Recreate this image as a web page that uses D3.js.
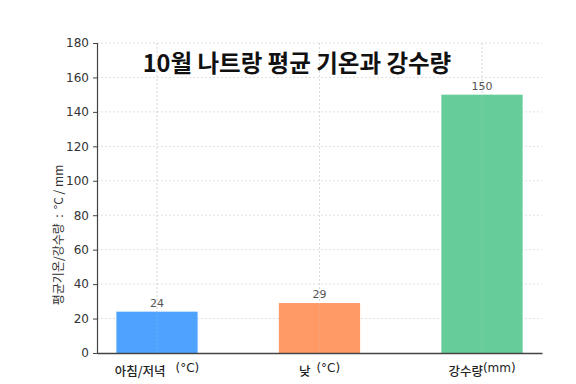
<!DOCTYPE html>
<html><head><meta charset="utf-8">
<script src="https://cdn.jsdelivr.net/npm/d3@7"></script>
<style>body{margin:0;background:#fff}svg{display:block}</style>
</head><body>
<svg id="c" width="576" height="384"></svg>
<script>
const categories = ["아침/저녁", "낮", "강수량"];
const units = ["(°C)", "(°C)", "(mm)"];
const values = [24, 29, 150];
const colors = ["#4da3ff", "#ff9966", "#66cc99"];
const yTicks = [0, 20, 40, 60, 80, 100, 120, 140, 160, 180];
const title = "10월 나트랑 평균 기온과 강수량";
const yLabel = "평균기온/강수량  :  °C / mm";

const svg = d3.select("#c");
const L = 97, R = 542, T = 43, B = 353;
const font = "'Noto Sans CJK KR', 'Noto Sans', sans-serif";
const numFont = "'DejaVu Sans', sans-serif";
const unitGap = [10, 6, 0];

const x = d3.scaleBand().domain(categories).range([L, R]).paddingInner(0.5).paddingOuter(0.1192);
const y = d3.scaleLinear().domain([0, 180]).range([B, T]);

// grid
const g = svg.append("g");
g.selectAll("line.h").data(yTicks.slice(1)).join("line")
  .attr("x1", L).attr("x2", R).attr("y1", d => y(d)).attr("y2", d => y(d))
  .attr("stroke", "#d8d8d8").attr("stroke-width", 0.8).attr("stroke-dasharray", "2,2");
g.selectAll("line.v").data(categories).join("line")
  .attr("x1", d => x(d) + x.bandwidth() / 2).attr("x2", d => x(d) + x.bandwidth() / 2)
  .attr("y1", T).attr("y2", B)
  .attr("stroke", "#d8d8d8").attr("stroke-width", 0.8).attr("stroke-dasharray", "2,2");

// bars
svg.selectAll("rect.bar").data(values).join("rect")
  .attr("x", (d, i) => x(categories[i])).attr("width", x.bandwidth())
  .attr("y", d => y(d)).attr("height", d => B - y(d))
  .attr("fill", (d, i) => colors[i]);

// vertical gridlines faintly over bars
svg.selectAll("line.vo").data(categories).join("line")
  .attr("x1", d => x(d) + x.bandwidth() / 2).attr("x2", d => x(d) + x.bandwidth() / 2)
  .attr("y1", T).attr("y2", B)
  .attr("stroke", "rgba(200,200,200,0.3)").attr("stroke-width", 0.8).attr("stroke-dasharray", "2,2");

// value labels
svg.selectAll("text.val").data(values).join("text")
  .attr("x", (d, i) => x(categories[i]) + x.bandwidth() / 2)
  .attr("y", d => y(d) - 5)
  .attr("text-anchor", "middle").attr("font-family", numFont).attr("font-size", 11)
  .attr("fill", "#555").text(d => d);

// y axis
const ya = svg.append("g").attr("transform", `translate(${L},0)`)
  .call(d3.axisLeft(y).tickValues(yTicks).tickSize(4).tickPadding(4));
ya.select(".domain").attr("stroke", "#444").attr("stroke-width", 1.2);
ya.selectAll(".tick line").attr("stroke", "#444");
ya.selectAll(".tick text").attr("font-family", numFont).attr("font-size", 12).attr("fill", "#333");

// x axis
const xa = svg.append("g").attr("transform", `translate(0,${B})`)
  .call(d3.axisBottom(x).tickSize(0).tickPadding(6).tickFormat(() => ""));
xa.select(".domain").attr("stroke", "#444").attr("stroke-width", 1.4);
xa.selectAll(".tick text").each(function (d, i) {
  const t = d3.select(this).attr("font-family", font).attr("font-size", 12.5).attr("font-weight", 500)
    .attr("fill", "#222").attr("y", 14);
  t.text(null);
  t.append("tspan").text(categories[i]);
  t.append("tspan").attr("dx", unitGap[i]).attr("dy", -4).attr("font-family", numFont)
    .attr("font-weight", "normal").attr("font-size", 12).text(units[i]);
});

// y label
svg.append("text").attr("transform", `translate(63,235) rotate(-90)`)
  .attr("text-anchor", "middle").attr("font-family", font).attr("font-size", 12).attr("fill", "#333")
  .attr("xml:space", "preserve").style("white-space", "pre")
  .text(yLabel);

// title
svg.append("text").attr("x", 297).attr("y", 72).attr("text-anchor", "middle")
  .attr("font-family", font).attr("font-weight", "bold").attr("font-size", 23.5).attr("fill", "#111")
  .text(title);
</script>
</body></html>
